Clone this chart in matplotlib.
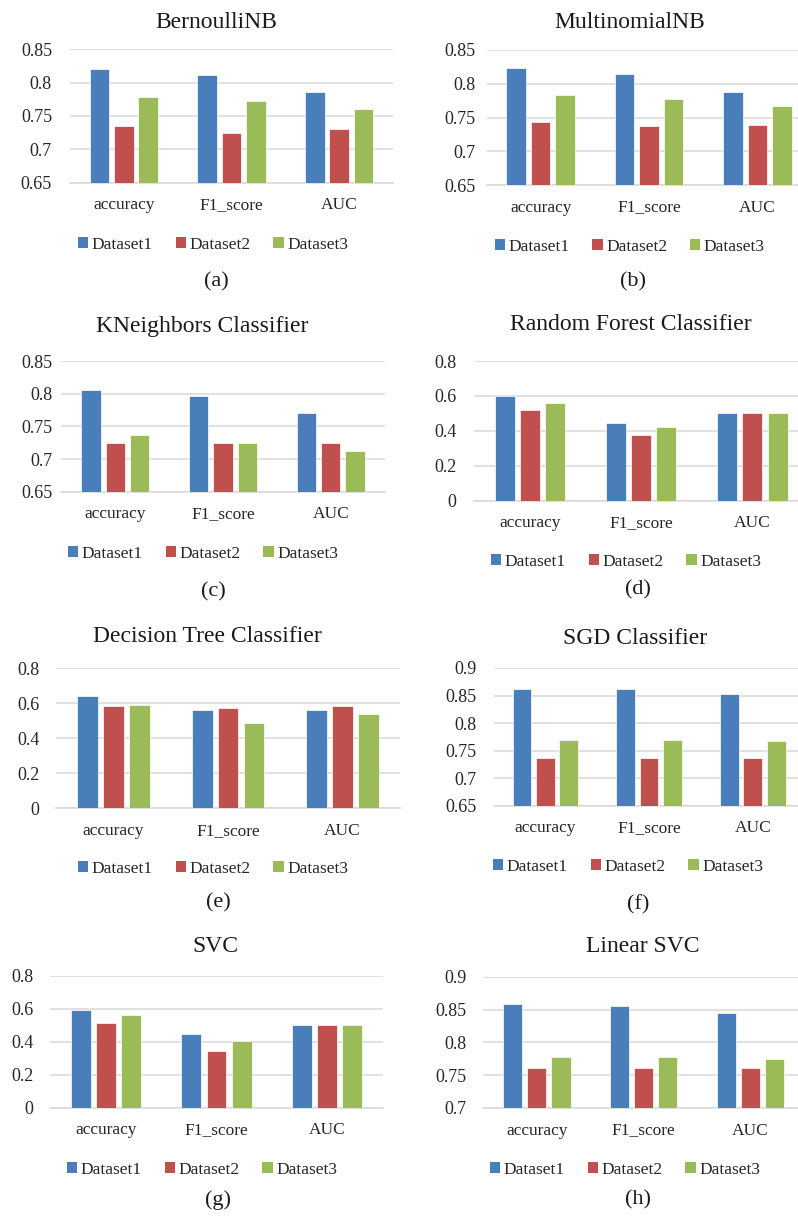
import matplotlib
matplotlib.use('Agg')
import matplotlib.pyplot as plt
from matplotlib.patches import Patch

plt.rcParams['font.family'] = ['Liberation Serif', 'DejaVu Serif']

metrics = ['accuracy', 'F1_score', 'AUC']
datasets = ['Dataset1', 'Dataset2', 'Dataset3']
captions = ['(a)', '(b)', '(c)', '(d)', '(e)', '(f)', '(g)', '(h)']
titles = ['BernoulliNB', 'MultinomialNB', 'KNeighbors Classifier', 'Random Forest Classifier',
          'Decision Tree Classifier', 'SGD Classifier', 'SVC', 'Linear SVC']

# rows: Dataset1, Dataset2, Dataset3 ; columns: accuracy, F1_score, AUC
bernoulli_nb = [[0.821, 0.811, 0.786], [0.735, 0.725, 0.731], [0.779, 0.772, 0.761]]
multinomial_nb = [[0.823, 0.814, 0.788], [0.743, 0.737, 0.739], [0.783, 0.778, 0.767]]
kneighbors = [[0.806, 0.796, 0.770], [0.725, 0.725, 0.724], [0.736, 0.724, 0.713]]
random_forest = [[0.597, 0.445, 0.500], [0.517, 0.374, 0.504], [0.559, 0.420, 0.500]]
decision_tree = [[0.640, 0.560, 0.562], [0.583, 0.571, 0.587], [0.590, 0.488, 0.539]]
sgd = [[0.861, 0.861, 0.853], [0.737, 0.737, 0.736], [0.769, 0.769, 0.767]]
svc = [[0.595, 0.445, 0.500], [0.512, 0.344, 0.500], [0.563, 0.403, 0.500]]
linear_svc = [[0.858, 0.856, 0.844], [0.761, 0.761, 0.761], [0.778, 0.778, 0.775]]

# y-axis ranges (min, max, step)
y_ranges = [(0.65, 0.85, 0.05), (0.65, 0.85, 0.05), (0.65, 0.85, 0.05), (0.0, 0.8, 0.2),
            (0.0, 0.8, 0.2), (0.65, 0.9, 0.05), (0.0, 0.8, 0.2), (0.7, 0.9, 0.05)]

all_scores = [bernoulli_nb, multinomial_nb, kneighbors, random_forest,
              decision_tree, sgd, svc, linear_svc]

colors = ['#4A7EBB', '#C0504D', '#9BBB59']
W, H = 798, 1219

# panel layout in pixels: axes (left, top, right, bottom), title xy, legend xy, caption xy, ytick pad
layout = [
    ((70, 49.3, 393, 182.7), (216.7, 22), (213, 245), (216.7, 282), 18),
    ((486.5, 50, 811.7, 185), (630, 22), (629.6, 247), (633, 282), 11),
    ((61.4, 361, 384.6, 491.7), (202.5, 326), (203, 554), (213, 592), 9),
    ((474.3, 361, 808, 500.7), (631, 325), (626, 562), (638, 590), 18),
    ((56.2, 668.3, 400, 808.3), (207.5, 637), (213, 869), (218, 903), 17),
    ((493.5, 668, 804.6, 805.7), (635, 638), (628, 867), (638, 905), 17),
    ((50.3, 976, 382.7, 1107.7), (215.7, 947), (202, 1170), (218, 1200), 17),
    ((483.3, 976.7, 804, 1108), (643, 947), (625, 1170), (638, 1200), 17),
]

fig = plt.figure(figsize=(W / 100, H / 100), dpi=100)

bar_w = 0.18
pitch = 0.226

for i, scores in enumerate(all_scores):
    (l, t, r, b), title_xy, leg_xy, cap_xy, ypad = layout[i]
    ax = fig.add_axes([l / W, 1 - b / H, (r - l) / W, (b - t) / H])
    ymin, ymax, step = y_ranges[i]
    x = range(len(metrics))
    for j, vals in enumerate(scores):
        pos = [k + (j - 1) * pitch for k in x]
        heights = [v - ymin for v in vals]
        ax.bar(pos, heights, bottom=ymin, width=bar_w, color=colors[j],
               edgecolor='white', linewidth=0.5, zorder=3)
    ax.set_xlim(-0.5, 2.5)
    ax.set_ylim(ymin, ymax)
    n = int(round((ymax - ymin) / step))
    ticks = [round(ymin + k * step, 2) for k in range(n + 1)]
    ax.set_yticks(ticks)
    ax.set_yticklabels([f'{v:g}' for v in ticks])
    ax.set_xticks(list(x))
    ax.set_xticklabels(metrics)
    ax.tick_params(axis='y', length=0, pad=ypad * 0.72, labelsize=13, labelcolor='#262626')
    ax.tick_params(axis='x', length=0, pad=10.5, labelsize=12.5, labelcolor='#262626')
    ax.yaxis.grid(True, color='#D9D9D9', linewidth=1.1, zorder=0)
    for s in ['top', 'right', 'left']:
        ax.spines[s].set_visible(False)
    ax.spines['bottom'].set_color('#D9D9D9')
    ax.spines['bottom'].set_linewidth(1.1)
    ax.set_axisbelow(True)

    fig.text(title_xy[0] / W, 1 - title_xy[1] / H, titles[i], ha='center', va='center',
             fontsize=17, color='#1a1a1a')
    fig.text(cap_xy[0] / W, 1 - cap_xy[1] / H, captions[i], ha='center', va='center',
             fontsize=16, color='#1a1a1a')
    handles = [Patch(facecolor=c, edgecolor='none') for c in colors]
    fig.legend(handles, datasets, loc='center', ncol=3, frameon=False,
               bbox_to_anchor=(leg_xy[0] / W, 1 - leg_xy[1] / H),
               fontsize=12.5, handlelength=0.6, handleheight=0.6,
               handletextpad=0.2, columnspacing=1.3, labelcolor='#262626')

fig.savefig('out.png', dpi=100)
